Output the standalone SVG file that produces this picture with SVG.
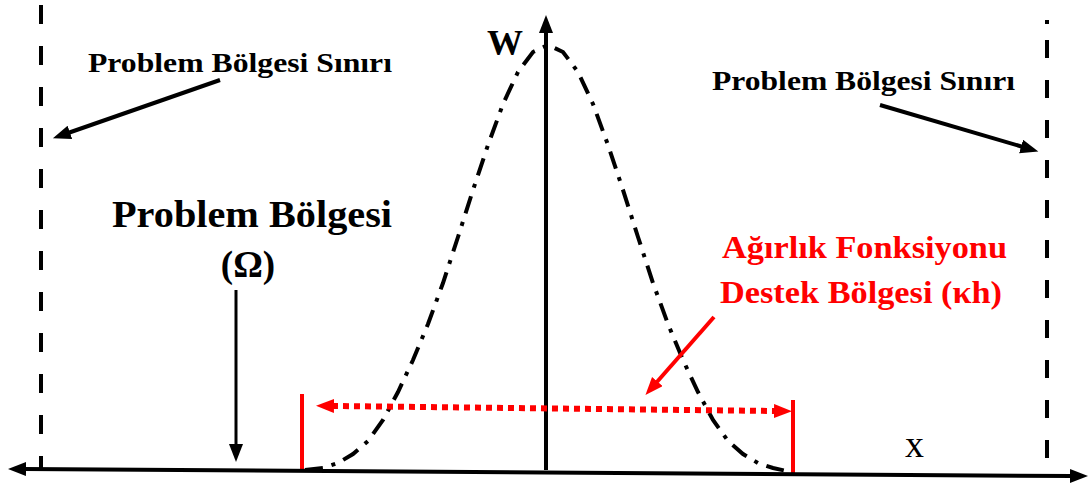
<svg xmlns="http://www.w3.org/2000/svg" width="1090" height="488" viewBox="0 0 1090 488">
<style>
.t{font-family:"Liberation Serif","Times New Roman",serif;font-weight:bold;fill:#000}
.r{fill:#ff0000}
.blk{stroke:#000;fill:none}
.red{stroke:#ff0000;fill:none}
</style>
<defs>
<marker id="ah" markerUnits="userSpaceOnUse" markerWidth="20" markerHeight="16" refX="2" refY="7" orient="auto-start-reverse" viewBox="0 0 20 16">
<path d="M0,0 L18,7 L0,14 z" fill="#000"/>
</marker>
<marker id="ahr" markerUnits="userSpaceOnUse" markerWidth="20" markerHeight="16" refX="2" refY="7" orient="auto-start-reverse" viewBox="0 0 20 16">
<path d="M0,0 L18,7 L0,14 z" fill="#ff0000"/>
</marker>
</defs>
<rect width="1090" height="488" fill="#fff"/>
<g id="boundary-left">
<line class="blk" x1="41" y1="5" x2="41" y2="470" stroke-width="4" stroke-dasharray="19 22"/>
</g>
<g id="boundary-right">
<line class="blk" x1="1047" y1="20" x2="1047" y2="24" stroke-width="4"/>
<line class="blk" x1="1047" y1="40" x2="1047" y2="476" stroke-width="4" stroke-dasharray="18 22"/>
</g>
<g id="curve">
<path class="blk" stroke-width="4" stroke-dasharray="18 9 4 9" d="M305,470 L323,468 L338,463 L353,454 L368,441 L383,420 L398,392 L413,360 L428,324 L443,283 L458,237 L473,190 L488,145 L503,104 L518,72 L533,52 L548,45 L563,52 L578,72 L593,104 L608,145 L623,190 L638,237 L653,283 L668,324 L683,360 L698,392 L713,420 L728,441 L743,454 L758,463 L773,468 L791,472"/>
</g>
<g id="support-bars">
<line class="red" x1="302" y1="394" x2="302" y2="471" stroke-width="4"/>
<line class="red" x1="793" y1="400" x2="793" y2="476" stroke-width="4"/>
</g>
<g id="connectors">
<line class="blk" x1="24" y1="469" x2="1072" y2="476" stroke-width="4" marker-start="url(#ah)" marker-end="url(#ah)"/>
<line class="blk" x1="546" y1="470" x2="546" y2="31" stroke-width="4" marker-end="url(#ah)"/>
<line class="blk" x1="220" y1="80" x2="68" y2="133" stroke-width="4" marker-end="url(#ah)"/>
<line class="blk" x1="880" y1="105" x2="1023" y2="147" stroke-width="4" marker-end="url(#ah)"/>
<line class="blk" x1="236" y1="290" x2="236" y2="446" stroke-width="3" marker-end="url(#ah)"/>
<line class="red" x1="714" y1="317" x2="656" y2="383" stroke-width="4" marker-end="url(#ahr)"/>
<line class="red" x1="332" y1="406" x2="776" y2="411" stroke-width="6" stroke-dasharray="6 5" marker-start="url(#ahr)" marker-end="url(#ahr)"/>
</g>
<g id="label-boundary-left">
<text class="t" x="88" y="72" font-size="27" textLength="304" lengthAdjust="spacingAndGlyphs">Problem Bölgesi Sınırı</text>
</g>
<g id="label-boundary-right">
<text class="t" x="712" y="90" font-size="27" textLength="303" lengthAdjust="spacingAndGlyphs">Problem Bölgesi Sınırı</text>
</g>
<g id="label-domain">
<text class="t" x="112" y="227" font-size="38" textLength="280" lengthAdjust="spacingAndGlyphs">Problem Bölgesi</text>
<text class="t" x="248" y="277" font-size="37" text-anchor="middle">(Ω)</text>
</g>
<g id="label-w">
<text class="t" x="487" y="55" font-size="36">W</text>
</g>
<g id="label-x">
<text x="905" y="457" font-size="38" font-family="Liberation Serif, Times New Roman, serif">x</text>
</g>
<g id="label-support">
<text class="t r" x="722" y="258" font-size="32" textLength="285" lengthAdjust="spacingAndGlyphs">Ağırlık Fonksiyonu</text>
<text class="t r" x="720" y="303" font-size="32" textLength="282" lengthAdjust="spacingAndGlyphs">Destek Bölgesi (κh)</text>
</g>
</svg>
